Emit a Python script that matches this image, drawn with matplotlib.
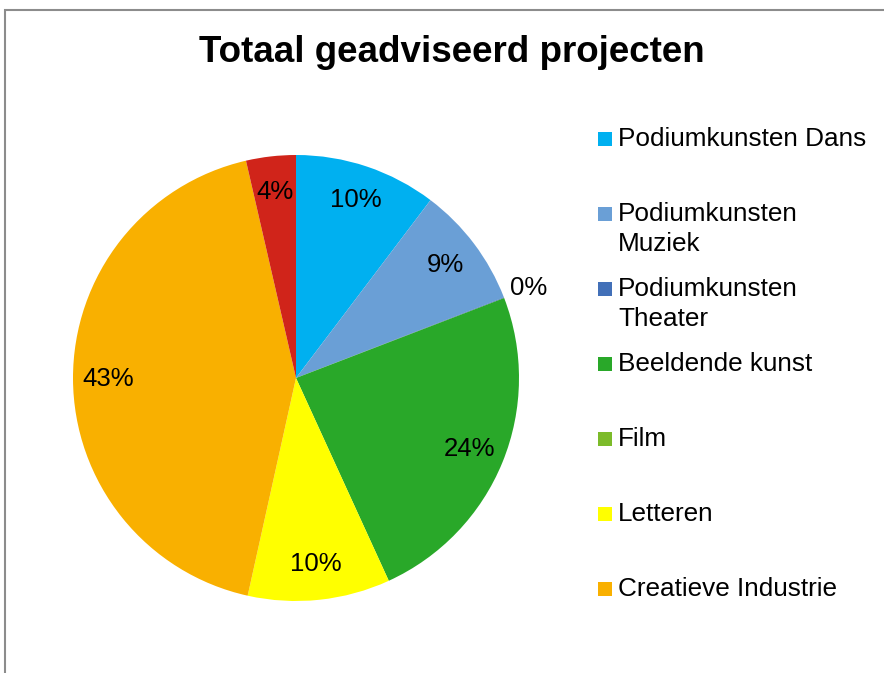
import matplotlib.pyplot as plt
from matplotlib.patches import Rectangle
import numpy as np

plt.rcParams['font.family'] = ['Liberation Sans', 'DejaVu Sans']

# data
categories = ['Podiumkunsten Dans', 'Podiumkunsten\nMuziek', 'Podiumkunsten\nTheater',
              'Beeldende kunst', 'Film', 'Letteren', 'Creatieve Industrie', 'Overig']
shares = [10.3, 8.8, 0.05, 24.0, 0.0, 10.3, 42.9, 3.6]
pct_labels = ['10%', '9%', '0%', '24%', '', '10%', '43%', '4%']
in_legend = [True, True, True, True, True, True, True, False]
colors = ['#00B0F0', '#6A9FD6', '#4270B8', '#29A829', '#7CBB2A', '#FFFF00', '#F9B000', '#D0241A']

W, H = 884, 673
fig = plt.figure(figsize=(W / 100, H / 100), dpi=100)

# outer border (chart area, cropped on right/bottom)
fig.patches.append(Rectangle((5 / W, -0.1), 1.2, (H - 10) / H + 0.1, transform=fig.transFigure,
                             fill=False, edgecolor='#8c8c8c', linewidth=1.5))

cx, cy, r = 296, 378, 223
ax = fig.add_axes([(cx - r) / W, (H - cy - r) / H, 2 * r / W, 2 * r / H])
wedges, _ = ax.pie(shares, colors=colors, startangle=90, counterclock=False,
                   wedgeprops=dict(linewidth=0))
ax.set_xlim(-1, 1)
ax.set_ylim(-1, 1)
ax.set_aspect('equal')
ax.axis('off')

for w, lab in zip(wedges, pct_labels):
    if not lab:
        continue
    ang = np.deg2rad((w.theta1 + w.theta2) / 2)
    d = 0.84 if (w.theta2 - w.theta1) > 3 else 1.12
    ax.text(d * np.cos(ang), d * np.sin(ang), lab, ha='center', va='center', fontsize=18.5)

fig.text(452 / W, 1 - 52 / H, 'Totaal geadviseerd projecten', ha='center', va='center',
         fontsize=26.5, fontweight='bold')

# legend
base0 = 147
for i, (cat, col, show) in enumerate(zip(categories, colors, in_legend)):
    if not show:
        continue
    b = base0 + i * 75
    fig.patches.append(Rectangle((598 / W, 1 - (b - 1) / H), 14 / W, 14 / H,
                                 transform=fig.transFigure, facecolor=col, edgecolor='none'))
    fig.text(618 / W, 1 - (b - 20) / H, cat, ha='left', va='top', fontsize=18.8,
             linespacing=1.3)

fig.savefig('out.png', dpi=100)
